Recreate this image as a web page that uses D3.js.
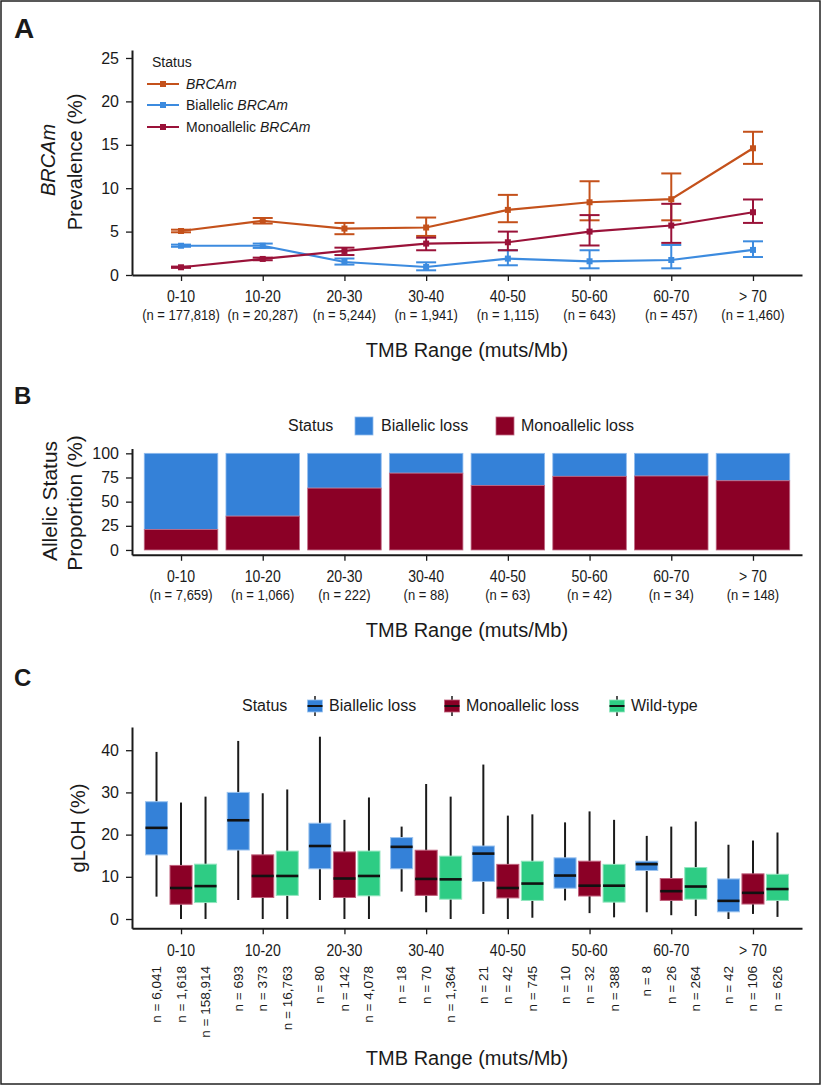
<!DOCTYPE html>
<html><head><meta charset="utf-8">
<script src="https://cdn.jsdelivr.net/npm/d3@7"></script>
<style>
body{margin:0;background:#fff}
text{font-family:"Liberation Sans",Arial,Helvetica,sans-serif;fill:#1a1a1a}
</style>
</head><body>
<svg id="c" width="821" height="1086"></svg>
<script>
// ---------- DATA ----------
const categories = ["0-10","10-20","20-30","30-40","40-50","50-60","60-70","> 70"];

// Panel A: BRCAm prevalence (%) with error bars
const nA = ["177,818","20,287","5,244","1,941","1,115","643","457","1,460"];
const brcaVal  = [5.07, 6.25, 5.35, 5.47, 7.50, 8.38, 8.73, 14.6];
const brcaLo   = [4.92, 5.93, 4.70, 4.50, 6.08, 6.30, 6.30, 12.8];
const brcaHi   = [5.22, 6.57, 6.00, 6.62, 9.23, 10.8, 11.7, 16.5];
const biVal    = [3.37, 3.37, 1.50, 0.92, 1.89, 1.58, 1.73, 2.89];
const biLo     = [3.25, 3.12, 1.20, 0.54, 1.12, 0.77, 0.77, 2.07];
const biHi     = [3.50, 3.62, 1.90, 1.46, 2.85, 2.85, 3.46, 3.88];
const monoVal  = [0.89, 1.85, 2.77, 3.62, 3.77, 5.00, 5.70, 7.23];
const monoLo   = [0.82, 1.70, 2.30, 2.85, 2.85, 3.40, 3.70, 6.00];
const monoHi   = [0.97, 2.00, 3.15, 4.30, 5.00, 6.90, 8.20, 8.70];
const seriesA = ["BRCAm","Biallelic BRCAm","Monoallelic BRCAm"];
const ticksA = [0,5,10,15,20,25];

// Panel B: allelic status proportion (%)
const nB = ["7,659","1,066","222","88","63","42","34","148"];
const monoPct = [21.1, 35.0, 64.0, 79.5, 66.7, 76.2, 76.5, 71.6];
const ticksB = [0,25,50,75,100];

// Panel C: gLOH (%) boxplots  [lower whisker, q1, median, q3, upper whisker]
const statusC = ["Biallelic loss","Monoallelic loss","Wild-type"];
const biWlo  = [5.3, 4.5, 4.5, 6.5, 1.2, 4.4, 1.6, 0.0];
const biQ1   = [15.2, 16.35, 11.9, 11.9, 8.9, 7.3, 11.5, 1.7];
const biMed  = [21.6, 23.4, 17.3, 17.1, 15.5, 10.3, 13.0, 4.3];
const biQ3   = [27.8, 30.0, 22.7, 19.3, 17.3, 14.5, 13.7, 9.5];
const biWhi  = [39.6, 42.2, 43.2, 21.9, 36.6, 22.9, 19.7, 17.6];
const moWlo  = [0.0, 0.0, 0.0, 1.6, 0.0, 1.4, 0.9, 1.2];
const moQ1   = [3.5, 5.1, 5.1, 5.6, 5.0, 5.45, 4.4, 3.55];
const moMed  = [7.35, 10.2, 9.6, 9.5, 7.35, 7.9, 6.6, 6.2];
const moQ3   = [12.7, 15.2, 15.9, 16.3, 12.95, 13.7, 9.6, 10.7];
const moWhi  = [27.6, 29.8, 23.5, 32.0, 24.5, 25.5, 21.9, 18.6];
const wtWlo  = [0.0, 0.0, 0.0, 0.0, 0.3, 0.4, 0.7, 0.5];
const wtQ1   = [3.9, 5.6, 5.5, 4.7, 4.4, 4.0, 4.7, 4.4];
const wtMed  = [7.8, 10.2, 10.2, 9.4, 8.4, 7.9, 7.7, 7.1];
const wtQ3   = [13.0, 16.1, 16.1, 14.9, 13.7, 12.95, 12.2, 10.6];
const wtWhi  = [29.0, 30.7, 28.8, 29.0, 24.8, 23.5, 23.1, 20.5];
const nBi = ["6,041","693","80","18","21","10","8","42"];
const nMo = ["1,618","373","142","70","42","32","26","106"];
const nWt = ["158,914","16,763","4,078","1,364","745","388","264","626"];
const ticksC = [0,10,20,30,40];

// ---------- STYLE ----------
const colA = {"BRCAm":"#C4511B","Biallelic BRCAm":"#3C8BDF","Monoallelic BRCAm":"#9A1239"};
const colBlue = "#3481D8", colRed = "#8B0026", colGreen = "#2ECC84";
const strokeBox = {"Biallelic loss":"#9cc4ef","Monoallelic loss":"#c0607c","Wild-type":"#93e6bf"};
const colC = {"Biallelic loss":colBlue,"Monoallelic loss":colRed,"Wild-type":colGreen};
const ink = "#1a1a1a";

const svg = d3.select("#c");
svg.append("rect").attr("x",1).attr("y",1).attr("width",819).attr("height",1083)
  .attr("fill","#fff").attr("stroke","#222").attr("stroke-width",1.5);

const x = d3.scalePoint().domain(categories).range([132,802]).padding(0.6);
const step = x.step();

function styleAxis(g){
  g.select(".domain").attr("stroke",ink).attr("stroke-width",2);
  g.selectAll(".tick line").attr("stroke",ink).attr("stroke-width",1.3);
  g.selectAll(".tick text").attr("font-size",16).attr("fill",ink)
    .attr("font-family",'"Liberation Sans",Arial,sans-serif');
}
function yAxis(scale, ticks){
  const g = svg.append("g").attr("transform","translate(132,0)")
    .call(d3.axisLeft(scale).tickValues(ticks).tickSize(6).tickSizeOuter(0).tickPadding(7));
  styleAxis(g);
  return g;
}
function xAxis(yPos){
  const g = svg.append("g").attr("transform",`translate(0,${yPos})`)
    .call(d3.axisBottom(x).tickSize(6).tickSizeOuter(0).tickFormat(""));
  styleAxis(g);
  return g;
}
function panelLabel(t, y, fs){
  svg.append("text").attr("x",14).attr("y",y).attr("font-size",fs).attr("font-weight","bold").text(t);
}
function xTitle(y){
  svg.append("text").attr("x",(132+802)/2).attr("y",y).attr("text-anchor","middle")
    .attr("font-size",20).text("TMB Range (muts/Mb)");
}
// condensed label: horizontal squeeze by transform
function cText(tx, ty, str, fs, f){
  return svg.append("text").attr("transform",`translate(${tx},${ty}) scale(${f},1)`)
    .attr("text-anchor","middle").attr("font-size",fs).text(str);
}
function catLabels(y1, y2, ns){
  categories.forEach((c,i)=>{
    cText(x(c), y1, c, 16, 0.88);
    if(ns) cText(x(c), y2, `(n = ${ns[i]})`, 15.5, 0.84);
  });
}

// ---------- PANEL A ----------
panelLabel("A", 38, 28);
const yA = d3.scaleLinear().domain([0,25.92]).range([275,50]);
yAxis(yA, ticksA);
xAxis(275);
catLabels(302, 320, nA);
xTitle(357);

// y label
svg.append("text").attr("transform","translate(55,160) rotate(-90)").attr("text-anchor","middle")
  .attr("font-size",20).attr("font-style","italic").text("BRCAm");
svg.append("text").attr("transform","translate(82,162) rotate(-90)").attr("text-anchor","middle")
  .attr("font-size",20).text("Prevalence (%)");

const dataA = [
  {name:"BRCAm", v:brcaVal, lo:brcaLo, hi:brcaHi},
  {name:"Biallelic BRCAm", v:biVal, lo:biLo, hi:biHi},
  {name:"Monoallelic BRCAm", v:monoVal, lo:monoLo, hi:monoHi}
];
const line = d3.line().x((d,i)=>x(categories[i])).y(d=>yA(d));
dataA.forEach(s=>{
  const g = svg.append("g");
  const c = colA[s.name];
  s.v.forEach((v,i)=>{
    const cx = x(categories[i]);
    g.append("line").attr("x1",cx).attr("x2",cx).attr("y1",yA(s.lo[i])).attr("y2",yA(s.hi[i]))
      .attr("stroke",c).attr("stroke-width",2);
    [s.lo[i], s.hi[i]].forEach(e=>{
      g.append("line").attr("x1",cx-10).attr("x2",cx+10).attr("y1",yA(e)).attr("y2",yA(e))
        .attr("stroke",c).attr("stroke-width",2);
    });
  });
  g.append("path").attr("d",line(s.v)).attr("fill","none").attr("stroke",c).attr("stroke-width",2.2);
  s.v.forEach((v,i)=>{
    g.append("rect").attr("x",x(categories[i])-3).attr("y",yA(v)-3).attr("width",6).attr("height",6).attr("fill",c);
  });
});

// legend A
svg.append("text").attr("x",152).attr("y",67).attr("font-size",14).text("Status");
[84,105,127].forEach((ly,i)=>{
  const nm = seriesA[i], c = colA[nm];
  svg.append("line").attr("x1",147).attr("x2",179).attr("y1",ly).attr("y2",ly).attr("stroke",c).attr("stroke-width",2);
  svg.append("rect").attr("x",160).attr("y",ly-3).attr("width",6).attr("height",6).attr("fill",c);
  const t = svg.append("text").attr("x",186).attr("y",ly+5).attr("font-size",14);
  if(i===0){ t.append("tspan").attr("font-style","italic").text("BRCAm"); }
  else {
    t.append("tspan").text(i===1?"Biallelic ":"Monoallelic ");
    t.append("tspan").attr("font-style","italic").text("BRCAm");
  }
});

// ---------- PANEL B ----------
panelLabel("B", 404, 24);
const yB = d3.scaleLinear().domain([-5,105]).range([554.8,448.5]);
const bw = step*0.9;
categories.forEach((c,i)=>{
  const m = monoPct[i];
  svg.append("rect").attr("x",x(c)-bw/2).attr("y",yB(100)).attr("width",bw).attr("height",yB(m)-yB(100))
    .attr("fill",colBlue).attr("stroke","#8fbbee").attr("stroke-width",0.8);
  svg.append("rect").attr("x",x(c)-bw/2).attr("y",yB(m)).attr("width",bw).attr("height",yB(0)-yB(m))
    .attr("fill",colRed).attr("stroke","#c06a85").attr("stroke-width",0.8);
});
yAxis(yB, ticksB);
xAxis(554.8);
catLabels(582, 600, nB);
xTitle(637);
svg.append("text").attr("transform","translate(57,501) rotate(-90)").attr("text-anchor","middle")
  .attr("font-size",21).text("Allelic Status");
svg.append("text").attr("transform","translate(82,503) rotate(-90)").attr("text-anchor","middle")
  .attr("font-size",21).text("Proportion (%)");
// legend B
svg.append("text").attr("x",288).attr("y",431).attr("font-size",16).text("Status");
[["Biallelic loss",355,381,colBlue,"#8fbbee"],["Monoallelic loss",496,521,colRed,"#c06a85"]].forEach(([lab,rx,tx,c,sc])=>{
  svg.append("rect").attr("x",rx).attr("y",417).attr("width",18).attr("height",18).attr("fill",c).attr("stroke",sc).attr("stroke-width",0.8);
  svg.append("text").attr("x",tx).attr("y",431).attr("font-size",16).text(lab);
});

// ---------- PANEL C ----------
panelLabel("C", 686, 24);
const yC = d3.scaleLinear().domain([-2.2,45.5]).range([928.3,727]);
const groups = [
  {name:"Biallelic loss", wlo:biWlo, q1:biQ1, med:biMed, q3:biQ3, whi:biWhi, n:nBi, off:-1},
  {name:"Monoallelic loss", wlo:moWlo, q1:moQ1, med:moMed, q3:moQ3, whi:moWhi, n:nMo, off:0},
  {name:"Wild-type", wlo:wtWlo, q1:wtQ1, med:wtMed, q3:wtQ3, whi:wtWhi, n:nWt, off:1}
];
const boxW = step*0.27;
groups.forEach(gr=>{
  categories.forEach((c,i)=>{
    const cx = x(c) + gr.off*step*0.3;
    svg.append("line").attr("x1",cx).attr("x2",cx).attr("y1",yC(gr.wlo[i])).attr("y2",yC(gr.whi[i]))
      .attr("stroke",ink).attr("stroke-width",2);
    svg.append("rect").attr("x",cx-boxW/2).attr("y",yC(gr.q3[i])).attr("width",boxW)
      .attr("height",yC(gr.q1[i])-yC(gr.q3[i]))
      .attr("fill",colC[gr.name]).attr("stroke",strokeBox[gr.name]).attr("stroke-width",1);
    svg.append("line").attr("x1",cx-boxW/2).attr("x2",cx+boxW/2).attr("y1",yC(gr.med[i])).attr("y2",yC(gr.med[i]))
      .attr("stroke","#111").attr("stroke-width",2.6);
    svg.append("text").attr("transform",`translate(${cx+4.5},966) rotate(-90)`).attr("text-anchor","end")
      .attr("font-size",13.5).text(`n = ${gr.n[i]}`);
  });
});
yAxis(yC, ticksC);
xAxis(928.3);
catLabels(955.5, 0, null);
xTitle(1065);
svg.append("text").attr("transform","translate(85,828) rotate(-90)").attr("text-anchor","middle")
  .attr("font-size",20).text("gLOH (%)");
// legend C
svg.append("text").attr("x",242).attr("y",711).attr("font-size",16).text("Status");
[["Biallelic loss",315,329],["Monoallelic loss",452,466],["Wild-type",617,631]].forEach(([lab,kx,tx])=>{
  svg.append("line").attr("x1",kx).attr("x2",kx).attr("y1",696).attr("y2",716).attr("stroke",ink).attr("stroke-width",1.5);
  svg.append("rect").attr("x",kx-7.5).attr("y",700).attr("width",15).attr("height",12)
    .attr("fill",colC[lab]).attr("stroke",strokeBox[lab]).attr("stroke-width",0.8);
  svg.append("line").attr("x1",kx-7.5).attr("x2",kx+7.5).attr("y1",706).attr("y2",706).attr("stroke","#111").attr("stroke-width",2);
  svg.append("text").attr("x",tx).attr("y",711).attr("font-size",16).text(lab);
});
</script>
</body></html>
